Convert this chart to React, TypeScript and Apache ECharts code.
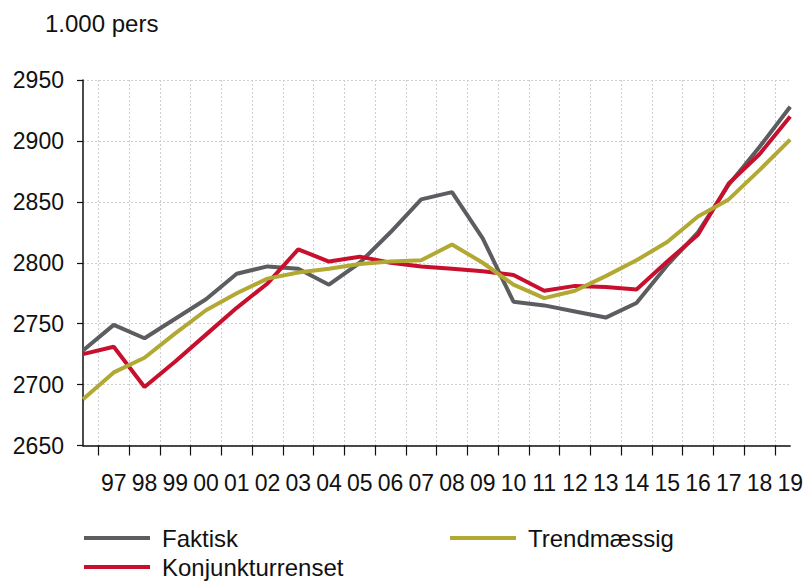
import React, { useEffect, useRef } from "react";
import * as echarts from "echarts";

const years = ["96","97","98","99","00","01","02","03","04","05","06","07","08","09","10","11","12","13","14","15","16","17","18","19"];
const faktisk = [2728,2749,2738,2754,2770,2791,2797,2795,2782,2800,2825,2852,2858,2820,2768,2765,2760,2755,2767,2798,2825,2864,2895,2928];
const konjunkturrenset = [2725,2731,2698,2719,2741,2763,2783,2811,2801,2805,2800,2797,2795,2793,2790,2777,2781,2780,2778,2801,2823,2865,2889,2920];
const trendmaessig = [2688,2710,2722,2742,2761,2775,2787,2792,2795,2799,2801,2802,2815,2800,2782,2771,2777,2789,2802,2817,2838,2852,2876,2901];
const yTicks = { min: 2650, max: 2950, interval: 50 };
const unitLabel = "1.000 pers";

const FONT = "'Liberation Sans', Arial, sans-serif";
const GRAY = "#5b5d60";
const RED = "#c8102e";
const OLIVE = "#b2a935";

export default function App() {
  const ref = useRef<HTMLDivElement>(null);
  useEffect(() => {
    if (!ref.current) return;
    const chart = echarts.init(ref.current, null, { renderer: "svg" });
    const n = years.length;
    const tickVals: number[] = [];
    for (let i = 0; i < n - 1; i++) tickVals.push(i + 0.5);
    const labelVals: number[] = [];
    for (let i = 1; i < n; i++) labelVals.push(i);
    const toData = (arr: number[]) => arr.map((v, i) => [i, v]);
    const legendBase = {
      icon: "rect",
      itemWidth: 66,
      itemHeight: 4,
      padding: 0,
      textStyle: { fontSize: 24, color: "#111", fontFamily: FONT, padding: [0, 0, 0, 7] },
      selectedMode: false,
    };
    chart.setOption({
      animation: false,
      backgroundColor: "#fff",
      textStyle: { fontFamily: FONT },
      title: {
        text: unitLabel,
        left: 40,
        top: 6,
        textStyle: { fontSize: 24, fontWeight: "normal", color: "#111", fontFamily: FONT },
      },
      grid: { left: 83, right: 15, top: 80, bottom: 135.5, containLabel: false },
      legend: [
        { ...legendBase, data: ["Faktisk"], left: 84, top: 526 },
        { ...legendBase, data: ["Trendmæssig"], left: 450, top: 526 },
        { ...legendBase, data: ["Konjunkturrenset"], left: 84, top: 555 },
      ],
      xAxis: {
        type: "value",
        min: 0,
        max: n - 1,
        axisLine: { show: true, onZero: false, lineStyle: { color: "#111", width: 1.5 } },
        axisTick: { show: true, customValues: tickVals, length: 10, lineStyle: { color: "#111", width: 1.2 } },
        axisLabel: {
          customValues: labelVals,
          formatter: (v: number) => years[Math.round(v)] ?? "",
          fontSize: 23,
          color: "#111",
          margin: 26,
          fontFamily: FONT,
        },
        splitLine: { show: true, customValues: tickVals, lineStyle: { color: "#cfcfcf", type: [2, 2], width: 1 } },
      },
      yAxis: {
        type: "value",
        min: yTicks.min,
        max: yTicks.max,
        interval: yTicks.interval,
        axisLine: { show: true, lineStyle: { color: "#111", width: 1.5 } },
        axisTick: { show: true, length: 6, lineStyle: { color: "#111", width: 1.2 } },
        axisLabel: { fontSize: 23, color: "#111", margin: 19, fontFamily: FONT, formatter: (v: number) => String(v) },
        splitLine: { show: true, lineStyle: { color: "#cfcfcf", type: [2, 2], width: 1 } },
      },
      series: [
        { name: "Faktisk", type: "line", data: toData(faktisk), symbol: "none", lineStyle: { color: GRAY, width: 4 }, itemStyle: { color: GRAY } },
        { name: "Konjunkturrenset", type: "line", data: toData(konjunkturrenset), symbol: "none", lineStyle: { color: RED, width: 4 }, itemStyle: { color: RED } },
        { name: "Trendmæssig", type: "line", data: toData(trendmaessig), symbol: "none", lineStyle: { color: OLIVE, width: 4 }, itemStyle: { color: OLIVE } },
      ],
    });
    return () => chart.dispose();
  }, []);
  return <div ref={ref} style={{ width: 806, height: 581, position: "absolute", left: 0, top: 0 }} />;
}
